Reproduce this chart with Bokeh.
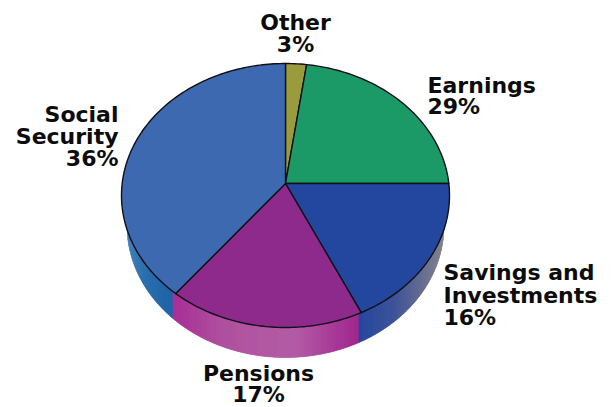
import math
from bokeh.plotting import figure
from bokeh.embed import file_html
from bokeh.resources import INLINE
from bokeh.core.properties import value

# ---- data ----
categories = ["Other", "Earnings", "Savings and Investments", "Pensions", "Social Security"]
shares = [3, 29, 16, 17, 36]
# the drawn slices are not proportional to their labels: sweep of each slice, degrees, clockwise from 12 o'clock
sweep_deg = [7.4, 77.4, 67.7, 69.5, 138]
top_colors = ["#9a9b3c", "#1b9a67", "#23479f", "#8e2a8b", "#3d69b0"]

label_lines = [["Other"], ["Earnings"], ["Savings and", "Investments"], ["Pensions"], ["Social", "Security"]]
label_anchor = [(295, 30, "center", 22), (427, 93, "left", 20.5), (443, 280, "left", 22.5), (258, 381, "center", 21), (118, 122, "right", 22)]

# side gradient stops: (x offset from centre, colour)
side_stops = [(-164, "#4f86bd"), (-140, "#2a6fae"), (-112.5, "#1f63a8"), (-112, "#a82f98"), (-60, "#b0529f"),
              (10, "#b45ca5"), (45, "#a93d99"), (73, "#a0288e"), (73.5, "#25479f"), (110, "#3f5499"), (158, "#85828c")]

# ---- geometry: the rim ellipse sits a little below the apex (perspective) ----
RX, RY, RIM_CY = 164, 132, -12          # top rim
LOW_RX, LOW_CY = 158.5, -42             # lower edge of the side
CX_PX, CY_PX, W, H = 285, 183, 613, 407

def top_pt(deg):
    t = math.radians(deg)
    return RX * math.sin(t), RIM_CY + RY * math.cos(t)

def rim_low_y(x):
    return RIM_CY - RY * math.sqrt(max(0, 1 - (x / RX) ** 2))

def base_low_y(x):
    return LOW_CY - RY * math.sqrt(max(0, 1 - (x / LOW_RX) ** 2))

def hex2rgb(h):
    return [int(h[i:i + 2], 16) for i in (1, 3, 5)]

def side_color(x):
    for (x0, c0), (x1, c1) in zip(side_stops, side_stops[1:]):
        if x0 <= x <= x1:
            f = (x - x0) / (x1 - x0)
            a, b = hex2rgb(c0), hex2rgb(c1)
            return "#%02x%02x%02x" % tuple(round(u + (v - u) * f) for u, v in zip(a, b))
    return side_stops[-1][1]

p = figure(width=W, height=H, output_backend="svg", toolbar_location=None,
           x_range=(-CX_PX, W - CX_PX), y_range=(CY_PX - H, CY_PX),
           min_border=0, outline_line_color=None, background_fill_color="white", border_fill_color="white")
p.axis.visible = False
p.grid.visible = False

# extruded side as thin vertical strips, colour running left to right
sx, sy, sc = [], [], []
x = -LOW_RX
while x < LOW_RX:
    x1 = min(x + 1, LOW_RX)
    if base_low_y(x) < rim_low_y(x) or base_low_y(x1) < rim_low_y(x1):
        sx.append([x, x1, x1, x])
        sy.append([rim_low_y(x) + 1, rim_low_y(x1) + 1, base_low_y(x1), base_low_y(x)])
        sc.append(side_color((x + x1) / 2))
    x = x1
p.patches(sx, sy, fill_color=sc, line_color=sc, line_width=0.6)

# top slices
start = 0.0
for sweep, col in zip(sweep_deg, top_colors):
    n = max(int(sweep), 2)
    arc = [top_pt(start + sweep * i / n) for i in range(n + 1)]
    xs = [0] + [q[0] for q in arc]
    ys = [0] + [q[1] for q in arc]
    p.patch(xs, ys, fill_color=col, line_color="#101018", line_width=1.4, line_join="round")
    start += sweep

# labels
xs, ys, txt, al = [], [], [], []
for lines, share, (ax, ay, align, step) in zip(label_lines, shares, label_anchor):
    for i, t in enumerate(lines + [f"{share}%"]):
        xs.append(ax - CX_PX)
        ys.append(CY_PX - (ay + i * step))
        txt.append(t)
        al.append(align)
p.text(xs, ys, text=txt, text_align=al, text_baseline="alphabetic", y_offset=-8,
       text_font=value("DejaVu Sans"), text_font_style="bold", text_font_size="22px", text_color="#0c0c0c")

open("out.html", "w").write(file_html(p, INLINE))
